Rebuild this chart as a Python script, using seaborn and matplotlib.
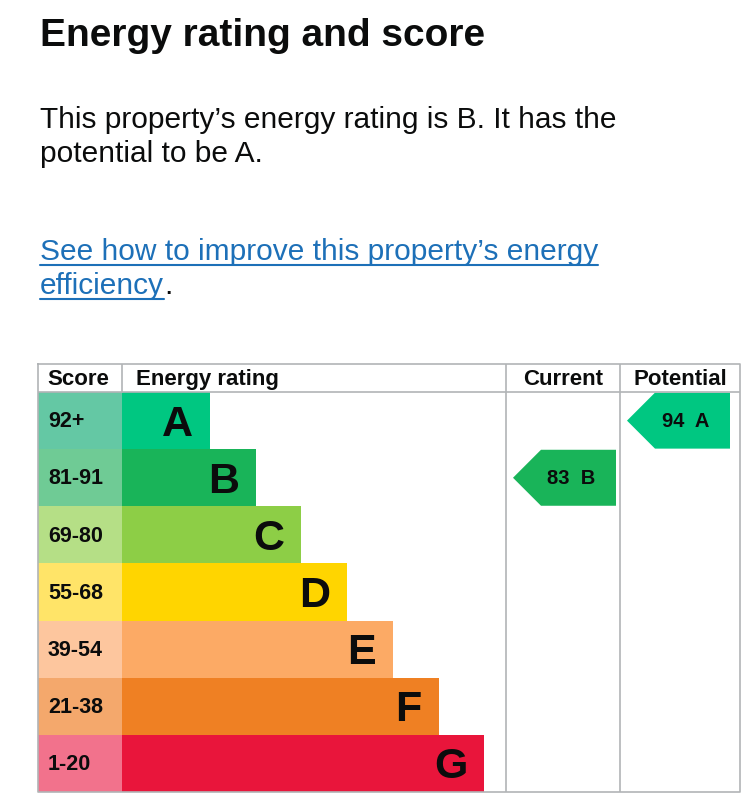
import matplotlib
matplotlib.use("Agg")
import matplotlib.pyplot as plt
from matplotlib.patches import Polygon
import seaborn as sns
import numpy as np

# ---- data ----
bands = ["A", "B", "C", "D", "E", "F", "G"]
score_ranges = ["92+", "81-91", "69-80", "55-68", "39-54", "21-38", "1-20"]
band_min = [92, 81, 69, 55, 39, 21, 1]
bar_colors = ["#00c781", "#19b459", "#8dce46", "#ffd500", "#fcaa65", "#ef8023", "#e9153b"]
score_colors = ["#64c8a4", "#6fcb95", "#b5df86", "#ffe468", "#fdc69e", "#f4a86c", "#f2728c"]
current_score = 83
potential_score = 94
headers = ["Score", "Energy rating", "Current", "Potential"]

title = "Energy rating and score"
body_lines = ["This property\u2019s energy rating is B. It has the", "potential to be A."]
link_lines = ["See how to improve this property\u2019s energy", "efficiency"]

sns.set_theme(style="white")
plt.rcParams["font.family"] = ["Liberation Sans", "DejaVu Sans"]

W, H = 745, 800
fig = plt.figure(figsize=(W / 100, H / 100), dpi=100)
fig.patch.set_facecolor("white")

# overlay axes in pixel coordinates for the text
tax = fig.add_axes([0, 0, 1, 1])
tax.set_xlim(0, W)
tax.set_ylim(H, 0)
tax.axis("off")

tax.text(40, 46, title, fontsize=28, fontweight="bold", color="#0b0c0c", va="baseline", ha="left")
for i, line in enumerate(body_lines):
    tax.text(40, 128 + 34 * i, line, fontsize=21.5, color="#0b0c0c", va="baseline", ha="left")

link_color = "#1d70b8"
link_texts = []
for i, line in enumerate(link_lines):
    t = tax.text(40, 260 + 34 * i, line, fontsize=21.5, color=link_color, va="baseline", ha="left")
    link_texts.append(t)

# ---- table axes ----
tl, tr, tt, tb = 38, 740, 364, 792
row_h = 57.0
header_h = 28.0
ax = fig.add_axes([tl / W, 1 - tb / H, (tr - tl) / W, (tb - tt) / H])

score_w = 84
x_cur, x_pot = 506 - 122, 620 - 122
bar_widths = [88 + 45.7 * i for i in range(len(bands))]

# score column (drawn leftwards from 0) and rating bars
sns.barplot(x=[-score_w] * len(bands), y=bands, hue=bands, palette=score_colors,
            width=1.0, saturation=1, linewidth=0, legend=False, ax=ax, orient="h")
sns.barplot(x=bar_widths, y=bands, hue=bands, palette=bar_colors,
            width=1.0, saturation=1, linewidth=0, legend=False, ax=ax, orient="h")

ax.set_xlim(-score_w, tr - 122)
ax.set_ylim(len(bands) - 0.5, -0.5 - header_h / row_h)
ax.axis("off")

grid_c = "#b1b4b6"
top_y = -0.5 - header_h / row_h
bot_y = len(bands) - 0.5
# border
ax.plot([-score_w, tr - 122, tr - 122, -score_w, -score_w], [top_y, top_y, bot_y, bot_y, top_y],
        color=grid_c, lw=1.2, clip_on=False)
ax.plot([-score_w, tr - 122], [-0.5, -0.5], color=grid_c, lw=1.2)
ax.plot([0, 0], [top_y, -0.5], color=grid_c, lw=1.2)
for xv in (x_cur, x_pot):
    ax.plot([xv, xv], [top_y, bot_y], color=grid_c, lw=1.2)

hy = (top_y - 0.5) / 2 + 0.02
ax.text(-score_w + 9, hy, headers[0], fontsize=16, fontweight="bold", color="#0b0c0c", va="center", ha="left")
ax.text(14, hy, headers[1], fontsize=16, fontweight="bold", color="#0b0c0c", va="center", ha="left")
ax.text((x_cur + x_pot) / 2, hy, headers[2], fontsize=16, fontweight="bold", color="#0b0c0c", va="center", ha="center")
ax.text((x_pot + tr - 122) / 2, hy, headers[3], fontsize=16, fontweight="bold", color="#0b0c0c", va="center", ha="center")

for i, (b, s, w) in enumerate(zip(bands, score_ranges, bar_widths)):
    ax.text(-score_w + 10, i + 0.02, s, fontsize=15.5, fontweight="bold", color="#0b0c0c", va="center", ha="left")
    ax.text(w - 17, i + 0.07, b, fontsize=31, fontweight="bold", color="#0b0c0c", va="center", ha="right")


def band_index(score):
    for i, m in enumerate(band_min):
        if score >= m:
            return i
    return len(band_min) - 1


def draw_arrow(score, x_left, x_right):
    i = band_index(score)
    tip = x_left + 7
    right = x_right - 4
    body = tip + 28
    hh = 0.49
    poly = Polygon([[tip, i], [body, i - hh], [right, i - hh], [right, i + hh], [body, i + hh]],
                   closed=True, facecolor=bar_colors[i], edgecolor="none")
    ax.add_patch(poly)
    ax.text((tip + right) / 2 + 7, i + 0.02, f"{score}  {bands[i]}", fontsize=14.5, fontweight="bold",
            color="#0b0c0c", va="center", ha="center")


draw_arrow(current_score, x_cur, x_pot)
draw_arrow(potential_score, x_pot, tr - 122 - 6)

# underline link text
fig.canvas.draw()
renderer = fig.canvas.get_renderer()
inv = tax.transData.inverted()
for t in link_texts:
    bb = t.get_window_extent(renderer=renderer)
    (x0, _), (x1, _) = inv.transform([[bb.x0, bb.y0], [bb.x1, bb.y0]])
    yb = t.get_position()[1] + 5
    tax.plot([x0, x1], [yb, yb], color=link_color, lw=1.5)
last = link_texts[-1]
bb = last.get_window_extent(renderer=renderer)
xe = inv.transform([[bb.x1, bb.y0]])[0][0]
tax.text(xe, last.get_position()[1], ".", fontsize=21.5, color="#0b0c0c", va="baseline", ha="left")

fig.savefig("out.png", dpi=100, facecolor="white")
